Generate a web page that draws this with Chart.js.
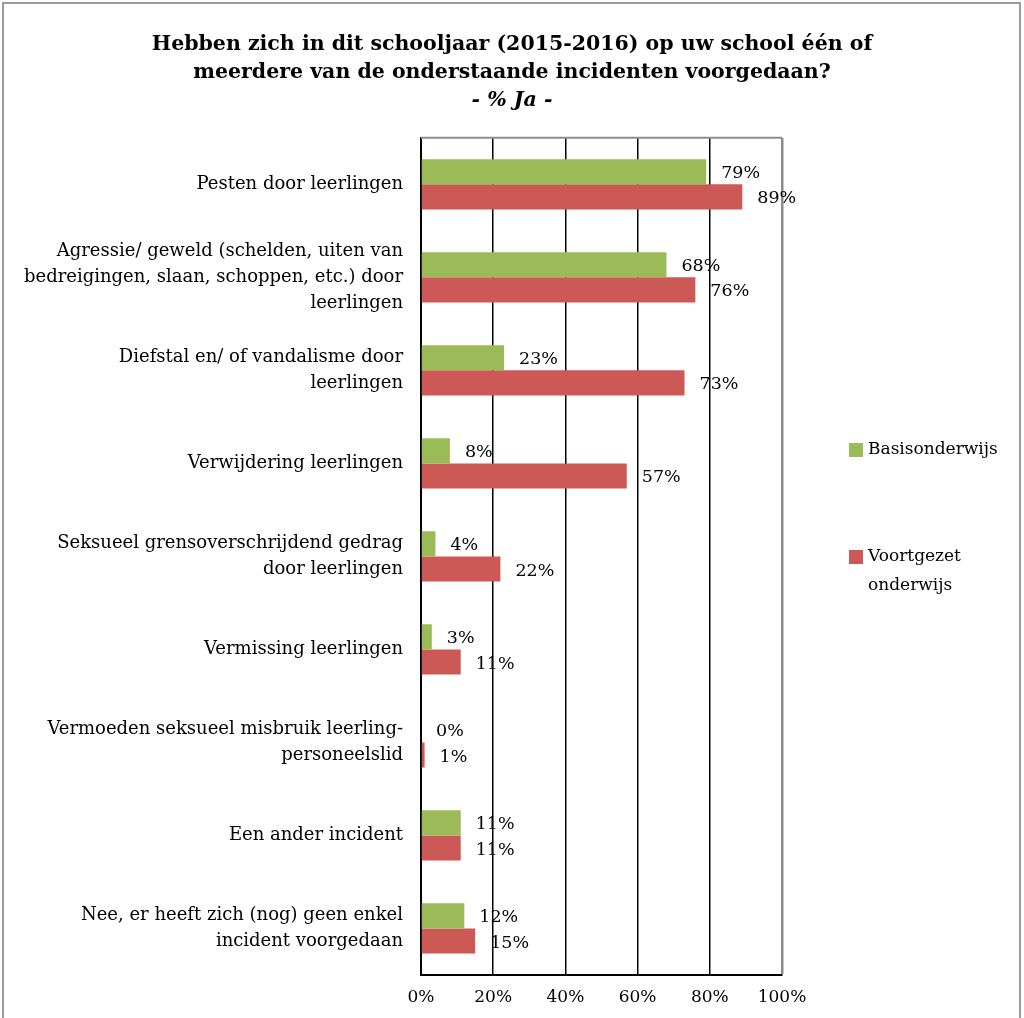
<!DOCTYPE html>
<html>
<head>
<meta charset="utf-8">
<script src="https://cdn.jsdelivr.net/npm/chart.js@4"></script>
<style>
html,body{margin:0;padding:0;background:#fff;}
#wrap{width:1024px;height:1018px;position:relative;}
canvas{display:block;}
</style>
</head>
<body>
<div id="wrap"><canvas id="c" width="1024" height="1018"></canvas></div>
<script>
const categories = [
  "Pesten door leerlingen",
  ["Agressie/ geweld (schelden, uiten van", "bedreigingen, slaan, schoppen, etc.) door", "leerlingen"],
  ["Diefstal en/ of vandalisme door", "leerlingen"],
  "Verwijdering leerlingen",
  ["Seksueel grensoverschrijdend gedrag", "door leerlingen"],
  "Vermissing leerlingen",
  ["Vermoeden seksueel misbruik leerling-", "personeelslid"],
  "Een ander incident",
  ["Nee, er heeft zich (nog) geen enkel", "incident voorgedaan"]
];
const basisonderwijs = [79, 68, 23, 8, 4, 3, 0, 11, 12];
const voortgezetOnderwijs = [89, 76, 73, 57, 22, 11, 1, 11, 15];
const seriesNames = ["Basisonderwijs", "Voortgezet onderwijs"];
const legendLines = [["Basisonderwijs"], ["Voortgezet", "onderwijs"]];
const titleLines = ["Hebben zich in dit schooljaar (2015-2016) op uw school één of", "meerdere van de onderstaande incidenten voorgedaan?"];
const subtitleText = "- % Ja -";
const xTicks = [0, 20, 40, 60, 80, 100];

const FONT = "'DejaVu Serif', serif";

const extras = {
  id: 'extras',
  afterDatasetsDraw(chart) {
    const ctx = chart.ctx;
    const ca = chart.chartArea;
    ctx.save();
    ctx.strokeStyle = '#8c8c8c';
    ctx.lineWidth = 2;
    ctx.beginPath();
    ctx.moveTo(ca.left, ca.top);
    ctx.lineTo(ca.right, ca.top);
    ctx.stroke();
    ctx.fillStyle = '#000';
    ctx.font = "17.5px " + FONT;
    ctx.textAlign = 'left';
    ctx.textBaseline = 'middle';
    chart.data.datasets.forEach((ds, di) => {
      const meta = chart.getDatasetMeta(di);
      meta.data.forEach((bar, i) => {
        ctx.fillText(ds.data[i] + '%', bar.x + 15, bar.y + 2);
      });
    });
    ctx.restore();
  },
  afterDraw(chart) {
    const ctx = chart.ctx;
    ctx.save();
    ctx.strokeStyle = '#9a9a9a';
    ctx.lineWidth = 2;
    ctx.beginPath();
    ctx.moveTo(3, 1030);
    ctx.lineTo(3, 3);
    ctx.lineTo(1020, 3);
    ctx.lineTo(1020, 1030);
    ctx.stroke();
    const ys = [450, 557];
    ctx.font = "17px " + FONT;
    ctx.textAlign = 'left';
    ctx.textBaseline = 'middle';
    chart.data.datasets.forEach((ds, di) => {
      const y = ys[di];
      ctx.fillStyle = ds.backgroundColor;
      ctx.fillRect(849, y - 7, 14, 14);
      ctx.fillStyle = '#000';
      legendLines[di].forEach((ln, li) => {
        ctx.fillText(ln, 868, y + li * 29);
      });
    });
    ctx.restore();
  }
};

new Chart(document.getElementById('c'), {
  type: 'bar',
  data: {
    labels: categories,
    datasets: [
      { label: seriesNames[0], data: basisonderwijs, backgroundColor: '#9BBB59', borderWidth: 0 },
      { label: seriesNames[1], data: voortgezetOnderwijs, backgroundColor: '#CD5957', borderWidth: 0 }
    ]
  },
  options: {
    indexAxis: 'y',
    responsive: false,
    animation: false,
    devicePixelRatio: 1,
    categoryPercentage: 0.54,
    barPercentage: 1.0,
    layout: { padding: 0 },
    plugins: {
      legend: { display: false },
      tooltip: { enabled: false },
      title: {
        display: true,
        text: titleLines,
        color: '#000',
        font: { family: FONT, size: 20.5, weight: 'bold', lineHeight: 1.37 },
        padding: { top: 31, bottom: 0 }
      },
      subtitle: {
        display: true,
        text: subtitleText,
        color: '#000',
        font: { family: FONT, size: 20.5, weight: 'bold', style: 'italic', lineHeight: 1.3 },
        padding: { top: 0, bottom: 24 }
      }
    },
    scales: {
      x: {
        min: 0, max: 100,
        afterBuildTicks(scale) { scale.ticks = xTicks.map(v => ({ value: v })); },
        afterFit(scale) { scale.height = 43; },
        ticks: {
          color: '#000',
          padding: 12,
          font: { family: FONT, size: 17 },
          callback: v => v + '%'
        },
        grid: {
          drawTicks: false,
          color: ctx => (ctx.tick && ctx.tick.value === 100) ? '#8c8c8c' : '#000',
          lineWidth: ctx => (ctx.tick && ctx.tick.value === 100) ? 2.5 : 1.5
        },
        border: { display: true, color: '#000', width: 2 }
      },
      y: {
        afterFit(scale) { scale.width = 421; },
        ticks: {
          color: '#000',
          padding: 18,
          font: { family: FONT, size: 18, lineHeight: 1.47 }
        },
        grid: { display: false, drawTicks: false },
        border: { display: true, color: '#000', width: 2 }
      },
      rightSpace: {
        type: 'linear',
        position: 'right',
        afterFit(scale) { scale.width = 242; },
        ticks: { display: false },
        grid: { display: false, drawTicks: false },
        border: { display: false }
      }
    }
  },
  plugins: [extras]
});
</script>
</body>
</html>
